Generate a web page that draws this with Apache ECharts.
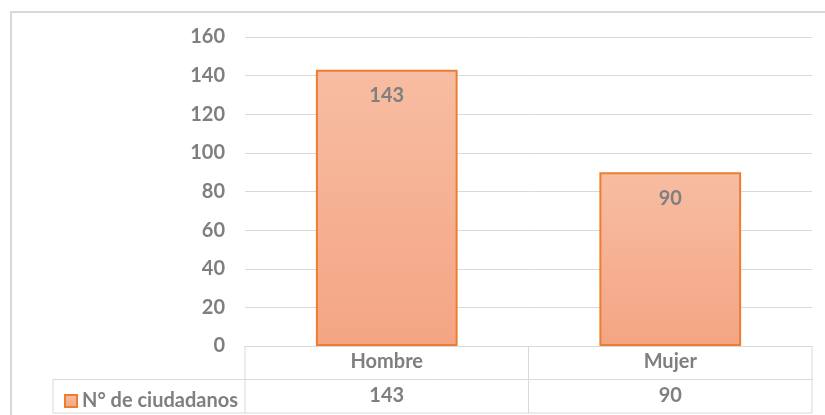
<!DOCTYPE html>
<html><head><meta charset="utf-8">
<script src="https://cdn.jsdelivr.net/npm/echarts@6/dist/echarts.min.js"></script>
<style>html,body{margin:0;padding:0;background:#fff}#c{width:825px;height:415px}</style>
</head><body><div id="c"></div>
<script>
const categories = ['Hombre', 'Mujer'];
const seriesName = 'N° de ciudadanos';
const values = [143, 90];
const yTicks = {min: 0, max: 160, interval: 20};

const FONT = 'Lato, "Open Sans", sans-serif';
const FS = 20;
const GRAY = '#7f7f7f';
const LINE = '#d9d9d9';
const chart = echarts.init(document.getElementById('c'), null, {renderer: 'canvas'});
const gridL = 245, gridR = 812, gridT = 37, gridB = 346, rowH = 33.5;
chart.setOption({
  animation: false,
  textStyle: {fontFamily: FONT},
  grid: {left: gridL, right: 825 - gridR, top: gridT, bottom: 415 - gridB},
  legend: {
    data: [seriesName], left: 59, top: 386, icon: 'rect', itemWidth: 12, itemHeight: 12, itemGap: 6,
    textStyle: {color: GRAY, fontSize: FS, fontWeight: 'bold', fontFamily: FONT}
  },
  xAxis: [{
    type: 'category', data: categories, position: 'bottom',
    axisLine: {lineStyle: {color: LINE}}, axisTick: {show: false},
    axisLabel: {color: GRAY, fontSize: FS, fontWeight: 'bold', margin: 6, fontFamily: FONT}
  }, {
    type: 'category', data: values.map(String), position: 'bottom', offset: rowH,
    axisLine: {show: false}, axisTick: {show: false},
    axisLabel: {color: GRAY, fontSize: FS, fontWeight: 'bold', margin: 6, fontFamily: FONT}
  }],
  yAxis: {
    type: 'value', min: yTicks.min, max: yTicks.max, interval: yTicks.interval,
    axisLine: {show: false}, axisTick: {show: false},
    splitLine: {lineStyle: {color: LINE, width: 1}},
    axisLabel: {color: GRAY, fontSize: FS, fontWeight: 'bold', margin: 20, fontFamily: FONT}
  },
  series: [{
    name: seriesName, type: 'bar', data: values, barWidth: '50%', xAxisIndex: 0,
    itemStyle: {
      color: new echarts.graphic.LinearGradient(0, 0, 0, 1, [
        {offset: 0, color: '#f7bda2'}, {offset: 1, color: '#f4a583'}]),
      borderColor: '#ed7d31', borderWidth: 2
    },
    label: {show: true, position: 'insideTop', distance: 16, color: GRAY, fontSize: FS, fontWeight: 'bold', fontFamily: FONT}
  }],
  graphic: [
    {type: 'rect', shape: {x: 11, y: 12, width: 830, height: 420}, style: {fill: 'none', stroke: LINE, lineWidth: 2}, z: -10},
    {type: 'line', shape: {x1: gridL, y1: gridB, x2: gridL, y2: gridB + 2 * rowH}, style: {stroke: LINE, lineWidth: 1}},
    {type: 'line', shape: {x1: (gridL + gridR) / 2, y1: gridB, x2: (gridL + gridR) / 2, y2: gridB + 2 * rowH}, style: {stroke: LINE, lineWidth: 1}},
    {type: 'line', shape: {x1: gridR, y1: gridB, x2: gridR, y2: gridB + 2 * rowH}, style: {stroke: LINE, lineWidth: 1}},
    {type: 'line', shape: {x1: 53, y1: gridB + rowH, x2: gridR, y2: gridB + rowH}, style: {stroke: LINE, lineWidth: 1}},
    {type: 'line', shape: {x1: 53, y1: gridB + 2 * rowH, x2: gridR, y2: gridB + 2 * rowH}, style: {stroke: LINE, lineWidth: 1}},
    {type: 'line', shape: {x1: 53, y1: gridB + rowH, x2: 53, y2: gridB + 2 * rowH}, style: {stroke: LINE, lineWidth: 1}}
  ]
});
</script></body></html>
